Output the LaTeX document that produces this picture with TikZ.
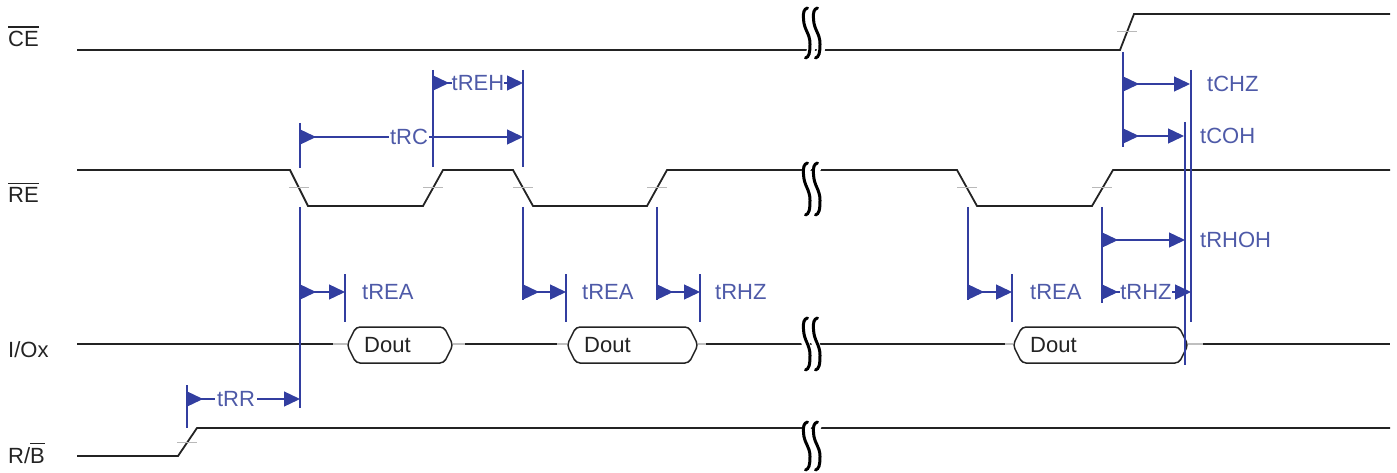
\documentclass[tikz,border=0pt]{standalone}
\usepackage{fontspec}
\setmainfont{Liberation Sans}
\usetikzlibrary{arrows.meta}
\definecolor{dimblue}{RGB}{50,62,160}
\definecolor{txtblue}{RGB}{78,90,168}
\definecolor{sig}{RGB}{35,35,35}
\newcommand\ovl[1]{\leavevmode\vbox{\hrule height 1.3pt\kern 4pt\hbox{#1}}}
% break mark: x, ytop, ybot
\newcommand\brkmark[3]{%
  \foreach \dx in {0,10}{%
    \draw[white,line width=8pt] (#1+\dx+5,#2+3) .. controls (#1+\dx-1,#2+0.3*#3-0.3*#2) and (#1+\dx+1,#2+0.45*#3-0.45*#2) .. (#1+\dx+5,#2+0.6*#3-0.6*#2) .. controls (#1+\dx+9,#2+0.75*#3-0.75*#2) and (#1+\dx+9,#3-4) .. (#1+\dx+5,#3-3);
  }%
  \foreach \dx in {0,10}{%
    \draw[brk] (#1+\dx+4.5,#2) .. controls (#1+\dx+1,#2+1) and (#1+\dx+0,#2+4) .. (#1+\dx+0.5,#2+0.22*#3-0.22*#2)
      .. controls (#1+\dx+1,#2+0.45*#3-0.45*#2) and (#1+\dx+7,#2+0.5*#3-0.5*#2) .. (#1+\dx+7,#2+0.72*#3-0.72*#2)
      .. controls (#1+\dx+7,#3-5) and (#1+\dx+6,#3-1) .. (#1+\dx+2.5,#3);
  }%
}
\newcommand\doutbox[2]{%
  \draw[draw=sig,line width=1.5pt,rounded corners=4pt,fill=white] (#1+9,327) -- (#2-9,327) -- (#2,345) -- (#2-9,363) -- (#1+9,363) -- (#1,345) -- cycle;
  \node[sname] at (#1+17,345) {Dout};
}
\begin{document}
\begin{tikzpicture}[x=1pt,y=-1pt,
  sigline/.style={draw=sig,line width=1.8pt},
  brk/.style={draw=black,line width=3pt,line cap=round},
  dim/.style={draw=dimblue,line width=1.3pt},
  dimarr/.style={dim,{Triangle[reversed,length=16pt 0 0,width=15pt 0 0]}-{Triangle[length=16pt 0 0,width=15pt 0 0]}},
  lbl/.style={text=txtblue,font=\fontsize{22}{24}\selectfont,inner sep=0pt},
  sname/.style={text=sig,font=\fontsize{22}{24}\selectfont,inner sep=0pt,anchor=west},
  tickm/.style={draw=gray!55,line width=1pt},
  faint/.style={draw=gray!50,line width=1.2pt},
]
\useasboundingbox (0,0) rectangle (1397,473);

% signal names
\node[sname,anchor=base west] (nce) at (8,47) {\ovl{CE}};
\node[sname,anchor=base west] (nre) at (8,203) {\ovl{RE}};
\node[sname,anchor=base west] (nio) at (8,357) {I/Ox};
\node[sname,anchor=base west] (nrb) at (8,463) {R/\ovl{B}};

% CE
\draw[sigline] (77,50) -- (1120,50) -- (1134,14) -- (1390,14);
\draw[tickm] (1117,32) -- (1137,32);

% RE
\draw[sigline] (77,170) -- (290,170) -- (308,206) -- (423,206) -- (443,170) -- (513,170) -- (533,206) -- (647,206) -- (667,170) -- (957,170) -- (977,206) -- (1092,206) -- (1113,170) -- (1390,170);
\foreach \x in {299,433,523,657,967,1102} \draw[tickm] (\x-10,188) -- (\x+10,188);

% I/O
\draw[sigline] (77,344) -- (333,344);
\draw[faint] (333,344) -- (347,344);
\draw[faint] (453,344) -- (465,344);
\draw[sigline] (465,344) -- (557,344);
\draw[faint] (557,344) -- (567,344);
\draw[faint] (698,344) -- (706,344);
\draw[sigline] (706,344) -- (1005,344);
\draw[faint] (1005,344) -- (1013,344);
\draw[faint] (1188,344) -- (1203,344);
\draw[sigline] (1203,344) -- (1390,344);
\doutbox{347}{453}
\doutbox{567}{698}
\doutbox{1013}{1188}

% R/B
\draw[sigline] (77,456) -- (178,456) -- (197,428) -- (1390,428);
\draw[tickm] (177,442) -- (197,442);

% break marks
\brkmark{803}{8}{58}
\brkmark{803}{163}{215}
\brkmark{803}{318}{370}
\brkmark{803}{422}{470}

% blue markers
\draw[dim] (300,123) -- (300,168);
\draw[dim] (300,207) -- (300,408);
\draw[dim] (433,70) -- (433,167);
\draw[dim] (523,70) -- (523,167);
\draw[dim] (523,207) -- (523,300);
\draw[dim] (657,207) -- (657,300);
\draw[dim] (968,207) -- (968,300);
\draw[dim] (1102,207) -- (1102,303);
\draw[dim] (1123,52) -- (1123,147);
\draw[dim] (1185,122) -- (1185,365);
\draw[dim] (1191,70) -- (1191,322);
\draw[dim] (187,385) -- (187,428);
\foreach \x in {345,566,700,1012} \draw[dim] (\x,274) -- (\x,322);

% dimension arrows
\draw[dimarr] (300,137) -- (523,137);
\node[lbl,fill=white,inner xsep=1pt] (tRC) at (409,137) {tRC};
\draw[dimarr] (433,83) -- (523,83);
\node[lbl,fill=white,inner xsep=0pt] (tREH) at (478,83) {tREH};
\draw[dimarr] (300,292) -- (345,292);
\node[lbl,anchor=west] (tREA1) at (362,292) {tREA};
\draw[dimarr] (523,292) -- (566,292);
\node[lbl,anchor=west] (tREA2) at (582,292) {tREA};
\draw[dimarr] (657,292) -- (700,292);
\node[lbl,anchor=west] (tRHZ1) at (715,292) {tRHZ};
\draw[dimarr] (968,292) -- (1012,292);
\node[lbl,anchor=west] (tREA3) at (1030,292) {tREA};
\draw[dimarr] (1102,292) -- (1191,292);
\node[lbl,fill=white,inner xsep=0pt] (tRHZ2) at (1146,292) {tRHZ};
\draw[dimarr] (1102,240) -- (1185,240);
\node[lbl,anchor=west] (tRHOH) at (1200,240) {tRHOH};
\draw[dimarr] (1123,84) -- (1190,84);
\node[lbl,anchor=west] (tCHZ) at (1207,84) {tCHZ};
\draw[dimarr] (1123,136) -- (1184,136);
\node[lbl,anchor=west] (tCOH) at (1200,136) {tCOH};
\draw[dimarr] (187,399) -- (300,399);
\node[lbl,fill=white,inner xsep=2pt] (tRR) at (236,399) {tRR};
\end{tikzpicture}
\end{document}
